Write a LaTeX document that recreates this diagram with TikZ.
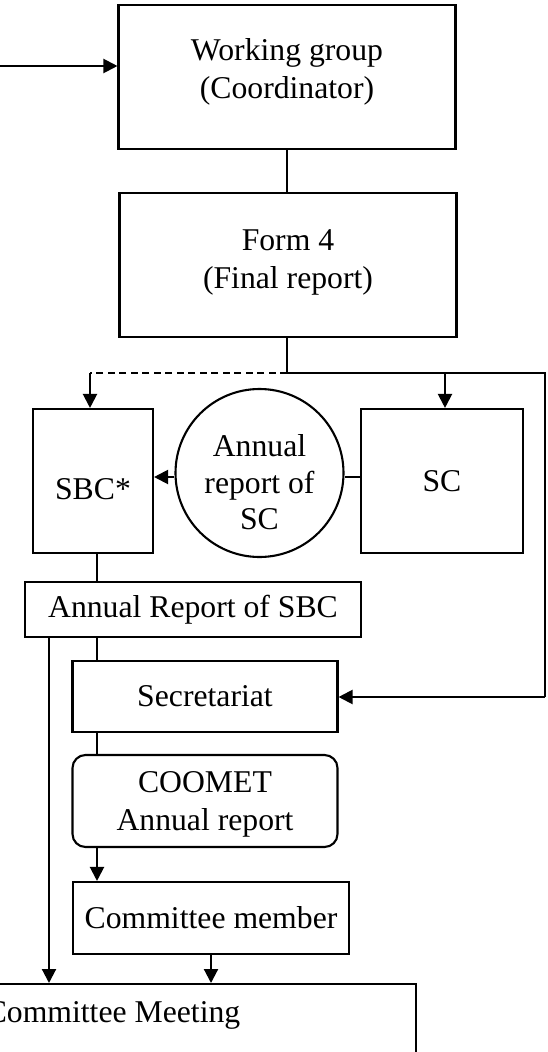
\documentclass[tikz,border=0pt]{standalone}
\usepackage{fontspec}
\setmainfont{Liberation Serif}
\usetikzlibrary{arrows.meta}
\newcommand{\bigtxt}{\fontsize{31.7}{38}\selectfont}
\begin{document}
\begin{tikzpicture}[x=1pt,y=-1pt,
  flowbox/.style={draw, line width=2.1pt, rectangle, inner sep=0pt, align=center, font=\bigtxt},
  conn/.style={line width=2.1pt},
  arr/.style={line width=2.1pt, -{Triangle[length=14pt,width=14pt]}},
  dashline/.style={line width=2.1pt, dash pattern=on 7pt off 4.5pt}]
\useasboundingbox (0,0) rectangle (547,1052);
\clip (0,0) rectangle (547,1052);
% nodes
\node[flowbox, minimum width=337pt, minimum height=144pt, text depth=16pt] (wg) at (287,77) {Working group\\(Coordinator)};
\node[flowbox, minimum width=337pt, minimum height=144pt, text depth=12pt] (f4) at (288,265) {Form 4\\(Final report)};
\node[flowbox, minimum width=120pt, minimum height=144pt, text height=44pt, text depth=7pt] (sbc) at (93,481) {SBC*};
\node[flowbox, minimum width=162pt, minimum height=144pt] (sc) at (442,481) {SC};
\node[draw, line width=2.1pt, circle, minimum size=168pt, inner sep=0pt, align=center, text height=113pt, text depth=0pt, font=\fontsize{31.7}{36.5}\selectfont] (circ) at (259.5,473) {Annual\\report of\\SC};
\node[flowbox, minimum width=336pt, minimum height=55pt] (arsbc) at (193,609.5) {Annual Report of SBC};
\node[flowbox, minimum width=265pt, minimum height=71pt] (sec) at (205,696.5) {Secretariat};
\node[flowbox, rounded corners=13pt, minimum width=265pt, minimum height=92pt, text depth=0pt] (coomet) at (205,801) {COOMET\\Annual report};
\node[flowbox, minimum width=276pt, minimum height=72pt] (cm) at (211,918) {Committee member};
\node[flowbox, anchor=north, minimum width=606pt, text height=22pt, text depth=110pt, inner ysep=16pt] (meet) at (113,983) {Committee Meeting};
% coordinates
\coordinate (in) at (0,66);
\coordinate (split) at (287,373);
\coordinate (dk) at (90,373);
\coordinate (sck) at (445,373);
\coordinate (rt) at (545,373);
\coordinate (rb) at (545,697);
\coordinate (spine) at (97,0);
\coordinate (lsp) at (49,0);
% connectors
\draw[arr] (in) -- (in -| wg.west);
\draw[conn] (wg.south -| split) -- (f4.north -| split);
\draw[conn] (f4.south -| split) -- (split);
\draw[dashline] (split) -- (dk);
\draw[arr] (dk) -- (dk |- sbc.north);
\draw[conn] (split) -- (rt) -- (rb);
\draw[arr] (rb) -- (rb -| sec.east);
\draw[arr] (sck) -- (sck |- sc.north);
\draw[arr] ([yshift=-4pt]circ.west) -- ([yshift=-4pt]circ.west -| sbc.east);
\draw[conn] ([yshift=-4pt]circ.east) -- ([yshift=-4pt]circ.east -| sc.west);
\draw[conn] (sbc.south -| spine) -- (arsbc.north -| spine);
\draw[conn] (arsbc.south -| spine) -- (sec.north -| spine);
\draw[conn] (sec.south -| spine) -- (coomet.north -| spine);
\draw[arr] (coomet.south -| spine) -- (cm.north -| spine);
\draw[arr] (arsbc.south -| lsp) -- (meet.north -| lsp);
\draw[arr] (cm.south) -- (cm.south |- meet.north);
\end{tikzpicture}
\end{document}
